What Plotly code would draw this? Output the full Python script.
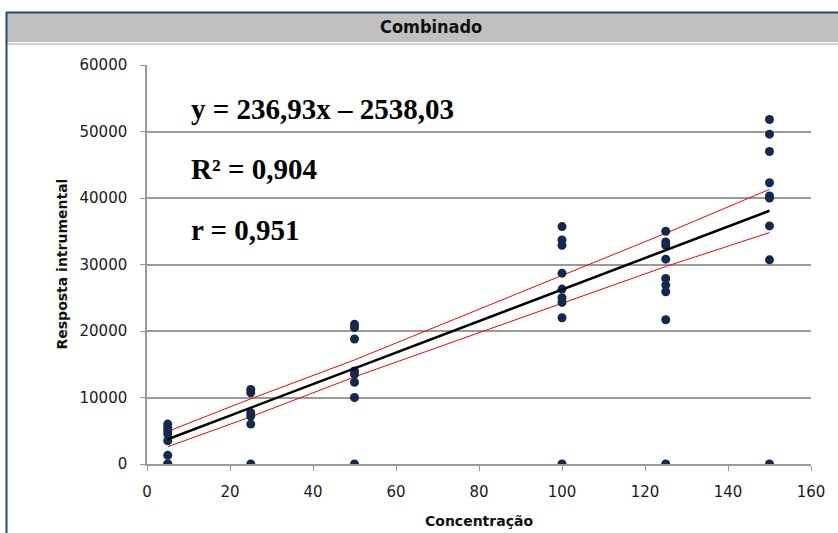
import plotly.graph_objects as go

# ---- data ----
conc_levels = [5, 25, 50, 100, 125, 150]
resp_5 = [6000, 5500, 5000, 4500, 3500, 1300, 0, 0]
resp_25 = [11200, 10700, 7700, 7200, 6000, 0]
resp_50 = [21000, 20500, 18800, 14000, 13500, 12300, 10000, 0]
resp_100 = [35700, 33700, 32900, 28700, 26300, 25000, 24300, 22000, 0]
resp_125 = [35000, 33400, 32900, 30800, 27900, 26900, 25900, 21700, 0]
resp_150 = [51800, 49600, 47000, 42300, 40300, 40000, 35800, 30700, 0]

slope = 236.93
intercept = 2538.03  # line as drawn in the chart

band_upper = [4900, 9800, 15650, 28400, 34700, 41300]
band_lower = [2600, 7100, 13100, 24100, 29700, 34800]

x_ticks = [0, 20, 40, 60, 80, 100, 120, 140, 160]
y_ticks = [0, 10000, 20000, 30000, 40000, 50000, 60000]
y_tick_labels = ["0", "10000", "20000", "30000", "40000", "50000", "60000"]

title_text = "Combinado"
x_title = "Concentração"
y_title = "Resposta intrumental"
eq_lines = ["y = 236,93x – 2538,03", "R² = 0,904", "r = 0,951"]

# ---- build scatter ----
groups = [resp_5, resp_25, resp_50, resp_100, resp_125, resp_150]
xs, ys = [], []
for c, g in zip(conc_levels, groups):
    xs += [c] * len(g)
    ys += g

fit_x = [conc_levels[0], conc_levels[-1]]
fit_y = [slope * v + intercept for v in fit_x]

fig = go.Figure()
fig.add_trace(go.Scatter(x=conc_levels, y=band_upper, mode="lines",
                         line=dict(color="#ff0000", width=1), hoverinfo="skip"))
fig.add_trace(go.Scatter(x=conc_levels, y=band_lower, mode="lines",
                         line=dict(color="#ff0000", width=1), hoverinfo="skip"))
fig.add_trace(go.Scatter(x=xs, y=ys, mode="markers",
                         marker=dict(color="#14294b", size=9)))
fig.add_trace(go.Scatter(x=fit_x, y=fit_y, mode="lines",
                         line=dict(color="#000000", width=2.5)))

L, R, T, B = 147, 27, 65, 69
W, H = 838, 533
pw, ph = W - L - R, H - T - B

def px(xp):
    return (xp - L) / pw

def py(yp):
    return (H - B - yp) / ph

shapes = [
    # title bar
    dict(type="rect", xref="paper", yref="paper", x0=px(7), x1=px(840),
         y0=py(42), y1=py(13), fillcolor="#c0c0c0", line=dict(width=0), layer="below"),
    dict(type="line", xref="paper", yref="paper", x0=px(7), x1=px(840),
         y0=py(44), y1=py(44), line=dict(color="#d4d4d4", width=2)),
    # blue frame
    dict(type="line", xref="paper", yref="paper", x0=px(6.5), x1=px(6.5),
         y0=py(12), y1=py(540), line=dict(color="#244a7c", width=2)),
    dict(type="line", xref="paper", yref="paper", x0=px(6), x1=px(840),
         y0=py(12.5), y1=py(12.5), line=dict(color="#244a7c", width=2)),
]

annotations = [
    dict(text="<b>" + title_text + "</b>", xref="paper", yref="paper", x=px(431), y=py(27),
         xanchor="center", yanchor="middle", showarrow=False,
         font=dict(family="DejaVu Sans Condensed", size=18, color="#111111")),
    dict(text="<b>" + x_title + "</b>", xref="paper", yref="paper", x=0.5, y=py(521),
         xanchor="center", yanchor="middle", showarrow=False,
         font=dict(family="DejaVu Sans", size=14, color="#111111")),
    dict(text="<b>" + y_title + "</b>", xref="paper", yref="paper", x=px(61), y=0.5,
         xanchor="center", yanchor="middle", showarrow=False, textangle=-90,
         font=dict(family="DejaVu Sans", size=14, color="#111111")),
]
for txt, yc in zip(eq_lines, [109.5, 169, 230]):
    annotations.append(dict(text="<b>" + txt + "</b>", xref="paper", yref="paper",
                            x=px(189), y=py(yc), xanchor="left", yanchor="middle",
                            showarrow=False,
                            font=dict(family="Liberation Serif", size=29, color="#000000")))

fig.update_layout(
    width=W, height=H,
    margin=dict(l=L, r=R, t=T, b=B, pad=0),
    paper_bgcolor="white", plot_bgcolor="white",
    showlegend=False,
    shapes=shapes, annotations=annotations,
    xaxis=dict(range=[0, 160], tickvals=x_ticks, showgrid=False, zeroline=False,
               showline=True, linecolor="#999999", linewidth=1.5,
               ticks="outside", ticklen=5, tickcolor="#999999",
               tickfont=dict(family="DejaVu Sans", size=15, color="#1a1a1a"),
               ticklabelstandoff=8),
    yaxis=dict(range=[0, 60000], tickvals=y_ticks, ticktext=y_tick_labels,
               showgrid=True, gridcolor="#9a9a9a",
               gridwidth=1.5, zeroline=False, showline=True, linecolor="#999999",
               linewidth=1.5, ticks="outside", ticklen=5, tickcolor="#999999",
               tickfont=dict(family="DejaVu Sans", size=15, color="#1a1a1a"),
               ticklabelstandoff=10),
)

fig.write_html("out.html")
